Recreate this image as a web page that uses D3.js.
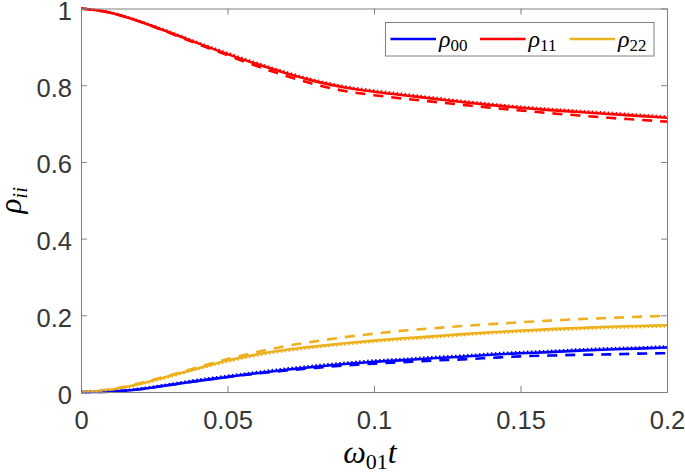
<!DOCTYPE html>
<html>
<head>
<meta charset="utf-8">
<script src="https://cdn.jsdelivr.net/npm/d3@7"></script>
<style>
  html, body { margin: 0; padding: 0; background: #fff; }
  svg { display: block; }
</style>
</head>
<body>
<svg id="chart" width="685" height="474"></svg>
<script>
// ---- data ----
const t = [0, 0.01, 0.02, 0.03, 0.04, 0.05, 0.06, 0.07, 0.08, 0.09, 0.10,
           0.11, 0.12, 0.13, 0.14, 0.15, 0.16, 0.17, 0.18, 0.19, 0.20];

const rho11Solid  = [1.000, 0.989, 0.966, 0.938, 0.909, 0.881, 0.855, 0.831, 0.810, 0.794, 0.783,
                     0.774, 0.765, 0.756, 0.748, 0.741, 0.735, 0.730, 0.725, 0.720, 0.715];
const rho11Dashed = [1.000, 0.989, 0.966, 0.937, 0.907, 0.878, 0.850, 0.824, 0.802, 0.785, 0.774,
                     0.765, 0.757, 0.749, 0.741, 0.734, 0.727, 0.721, 0.715, 0.710, 0.705];
const rho11Dotted = [1.000, 0.990, 0.967, 0.940, 0.911, 0.884, 0.858, 0.834, 0.813, 0.797, 0.786,
                     0.777, 0.768, 0.759, 0.751, 0.744, 0.738, 0.733, 0.728, 0.723, 0.718];

const rho22Solid  = [0.000, 0.006, 0.021, 0.041, 0.062, 0.082, 0.098, 0.110, 0.119, 0.127, 0.134,
                     0.140, 0.145, 0.151, 0.156, 0.160, 0.164, 0.167, 0.170, 0.172, 0.174];
const rho22Dashed = [0.000, 0.007, 0.023, 0.043, 0.065, 0.086, 0.104, 0.120, 0.132, 0.143, 0.152,
                     0.160, 0.166, 0.172, 0.177, 0.182, 0.186, 0.190, 0.193, 0.196, 0.199];
const rho22Dotted = [0.000, 0.006, 0.020, 0.039, 0.060, 0.079, 0.095, 0.107, 0.116, 0.124, 0.131,
                     0.137, 0.142, 0.148, 0.153, 0.157, 0.161, 0.164, 0.167, 0.169, 0.171];

const rho00Solid  = [0.000, 0.001, 0.007, 0.018, 0.029, 0.039, 0.049, 0.058, 0.066, 0.073, 0.079,
                     0.083, 0.088, 0.092, 0.097, 0.101, 0.104, 0.108, 0.111, 0.113, 0.116];
const rho00Dashed = [0.000, 0.001, 0.007, 0.018, 0.029, 0.039, 0.048, 0.056, 0.063, 0.069, 0.074,
                     0.078, 0.082, 0.085, 0.089, 0.093, 0.095, 0.097, 0.098, 0.100, 0.101];
const rho00Dotted = [0.000, 0.002, 0.009, 0.020, 0.032, 0.042, 0.052, 0.061, 0.069, 0.076, 0.082,
                     0.086, 0.091, 0.095, 0.100, 0.104, 0.107, 0.111, 0.114, 0.116, 0.119];

const xTicks = [0, 0.05, 0.1, 0.15, 0.2];
const xTickLabels = ["0", "0.05", "0.1", "0.15", "0.2"];
const yTicks = [0, 0.2, 0.4, 0.6, 0.8, 1];
const yTickLabels = ["0", "0.2", "0.4", "0.6", "0.8", "1"];

const colors = { rho00: "#0000ff", rho11: "#ff0000", rho22: "#EDB120" };

// ---- layout ----
const svg = d3.select("#chart");
const L = 81, R = 667, T = 8.5, B = 392;
const x = d3.scaleLinear().domain([0, 0.2]).range([L, R]);
const y = d3.scaleLinear().domain([0, 1]).range([B, T]);

const axisColor = "#808080";
const textColor = "#363636";
const tickFont = "'Liberation Sans', Arial, Helvetica, sans-serif";
const mathFont = "'Liberation Serif', 'Times New Roman', serif";

svg.append("defs").append("clipPath").attr("id", "clip")
  .append("rect").attr("x", L).attr("y", T - 2).attr("width", R - L).attr("height", B - T + 4);

// ---- series ----
const lineGen = d3.line().x((d, i) => x(t[i])).y(d => y(d)).curve(d3.curveMonotoneX);
const plot = svg.append("g").attr("clip-path", "url(#clip)");

const series = [
  { v: rho00Solid,  c: colors.rho00, dash: null },
  { v: rho11Solid,  c: colors.rho11, dash: null },
  { v: rho22Solid,  c: colors.rho22, dash: null },
  { v: rho00Dashed, c: colors.rho00, dash: "10,8" },
  { v: rho11Dashed, c: colors.rho11, dash: "10,8" },
  { v: rho22Dashed, c: colors.rho22, dash: "10,8" },
  { v: rho00Dotted, c: colors.rho00, dash: "1.5,2.5" },
  { v: rho11Dotted, c: colors.rho11, dash: "1.5,2.5" },
  { v: rho22Dotted, c: colors.rho22, dash: "1.5,2.5" }
];
series.forEach(s => {
  plot.append("path")
    .attr("d", lineGen(s.v))
    .attr("fill", "none")
    .attr("stroke", s.c)
    .attr("stroke-width", 2.6)
    .attr("stroke-dasharray", s.dash)
    .attr("stroke-linejoin", "round");
});

// ---- axes (box with inward ticks on all sides) ----
const gx = svg.append("g").attr("transform", `translate(0,${B})`)
  .call(d3.axisBottom(x).tickValues(xTicks).tickSizeInner(-6).tickSizeOuter(0).tickFormat((d, i) => xTickLabels[i]));
const gxTop = svg.append("g").attr("transform", `translate(0,${T})`)
  .call(d3.axisTop(x).tickValues(xTicks).tickSizeInner(-6).tickSizeOuter(0).tickFormat(""));
const gy = svg.append("g").attr("transform", `translate(${L},0)`)
  .call(d3.axisLeft(y).tickValues(yTicks).tickSizeInner(-6).tickSizeOuter(0).tickFormat((d, i) => yTickLabels[i]));
const gyR = svg.append("g").attr("transform", `translate(${R},0)`)
  .call(d3.axisRight(y).tickValues(yTicks).tickSizeInner(-6).tickSizeOuter(0).tickFormat(""));

[gx, gxTop, gy, gyR].forEach(g => {
  g.select(".domain").attr("stroke", axisColor).attr("stroke-width", 1);
  g.selectAll(".tick line").attr("stroke", axisColor).attr("stroke-width", 1);
});

gx.selectAll(".tick text")
  .attr("y", 36.5).attr("dy", 0)
  .attr("fill", textColor)
  .style("font-family", tickFont).style("font-size", "25.5px");
gy.selectAll(".tick text")
  .attr("x", -9).attr("y", 11).attr("dy", 0)
  .attr("fill", textColor)
  .style("font-family", tickFont).style("font-size", "25.5px");

// ---- axis labels ----
const yl = svg.append("text")
  .attr("transform", `translate(21,${(T + B) / 2}) rotate(-90)`)
  .attr("text-anchor", "middle")
  .attr("fill", "#000")
  .style("font-family", mathFont).style("font-style", "italic").style("font-size", "31px");
yl.append("tspan").text("ρ");
yl.append("tspan").attr("dy", 6).style("font-size", "21px").text("ii");

const xl = svg.append("text")
  .attr("x", (L + R) / 2 - 4).attr("y", 463)
  .attr("text-anchor", "middle")
  .attr("fill", "#000")
  .style("font-family", mathFont).style("font-size", "32px");
xl.append("tspan").style("font-style", "italic").text("ω");
xl.append("tspan").attr("dy", 6).style("font-size", "22px").text("01");
xl.append("tspan").attr("dy", -6).style("font-style", "italic").text("t");

// ---- legend ----
const leg = svg.append("g");
leg.append("rect")
  .attr("x", 385.5).attr("y", 22.5).attr("width", 268.5).attr("height", 33.5)
  .attr("fill", "#fff").attr("stroke", axisColor).attr("stroke-width", 1);
const legItems = [
  { c: colors.rho00, sub: "00", x0: 390.5 },
  { c: colors.rho11, sub: "11", x0: 480 },
  { c: colors.rho22, sub: "22", x0: 569.5 }
];
legItems.forEach(it => {
  leg.append("line")
    .attr("x1", it.x0).attr("x2", it.x0 + 45.5)
    .attr("y1", 39).attr("y2", 39)
    .attr("stroke", it.c).attr("stroke-width", 2.6);
  const tx = leg.append("text")
    .attr("x", it.x0 + 48.5).attr("y", 46.5)
    .attr("fill", "#000")
    .style("font-family", mathFont).style("font-size", "24px");
  tx.append("tspan").style("font-style", "italic").text("ρ");
  tx.append("tspan").attr("dy", 4).style("font-size", "17px").text(it.sub);
});
</script>
</body>
</html>
